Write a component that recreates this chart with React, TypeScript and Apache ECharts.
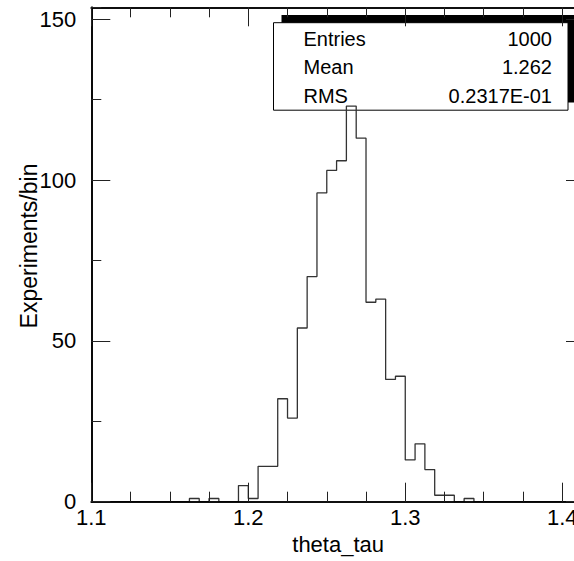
import React, { useEffect, useRef } from "react";
import * as echarts from "echarts";

// ---- data ----
const binStart = 1.1;
const binWidth = 0.00625;
// counts per bin, from 1.1 upwards (50 bins)
const counts = [
  0, 0, 0, 0, 0, 0, 0, 0, 0, 0,
  1, 0, 1, 0, 0, 5, 1, 11, 11, 32,
  26, 54, 70, 96, 103, 106, 123, 113, 62, 63,
  38, 39, 13, 18, 10, 2, 2, 0, 1, 0,
  0, 0, 0, 0, 0, 0, 0, 0, 0, 0,
];
const xMajorTicks = [1.1, 1.2, 1.3, 1.4];
const yMajorTicks = [0, 50, 100, 150];
const statNames = ["Entries", "Mean", "RMS"];
const statValues = ["1000", "1.262", "0.2317E-01"];
const xTitle = "theta_tau";
const yTitle = "Experiments/bin";

const FONT = "Liberation Sans, Arial, Helvetica, sans-serif";

export default function App() {
  const ref = useRef<HTMLDivElement>(null);

  useEffect(() => {
    const chart = echarts.init(ref.current!, null, { renderer: "svg" });
    const xMin = 1.1;
    const xMax = 1.4145;
    const yMin = 0;
    const yMax = 153.7;

    const data: number[][] = counts.map((c, k) => [binStart + k * binWidth, c]);
    data.push([binStart + counts.length * binWidth, 0]);

    const axisLine = { show: true, onZero: false, lineStyle: { color: "#000", width: 1.6 } };
    const tickStyle = { color: "#222", width: 1 };

    const mkX = (position: string, interval: number, len: number, labels: boolean, custom?: number[]) => ({
      type: "value",
      position,
      min: xMin,
      max: xMax,
      interval,
      z: 4,
      splitLine: { show: false },
      axisLine,
      axisTick: { show: true, inside: true, length: len, lineStyle: tickStyle, ...(custom ? { customValues: custom } : {}) },
      axisLabel: labels
        ? {
            show: true,
            margin: 5,
            color: "#000",
            fontSize: 22,
            fontFamily: FONT,
            customValues: custom,
          }
        : { show: false },
      ...(labels && position === "bottom"
        ? {
            name: xTitle,
            nameLocation: "middle",
            nameGap: 29,
            nameTextStyle: { color: "#000", fontSize: 22, fontFamily: FONT },
          }
        : {}),
    });

    const mkY = (position: string, interval: number, len: number, labels: boolean, custom?: number[]) => ({
      type: "value",
      position,
      min: yMin,
      max: yMax,
      interval,
      z: 4,
      splitLine: { show: false },
      axisLine,
      axisTick: { show: true, inside: true, length: len, lineStyle: tickStyle, ...(custom ? { customValues: custom } : {}) },
      axisLabel: labels
        ? {
            show: true,
            margin: 15,
            color: "#000",
            fontSize: 22,
            fontFamily: FONT,
            customValues: custom,
          }
        : { show: false },
    });

    const statLeft = 303.5;
    const statRight = 552;
    const statTop = 38.6;
    const statGap = 28.6;

    chart.setOption({
      animation: false,
      backgroundColor: "#fff",
      grid: {
        left: 91.3,
        right: 15,
        top: 7.3,
        bottom: 59.3,
        containLabel: false,
        outerBoundsMode: "none",
      },
      xAxis: [
        mkX("bottom", 0.025, 10, false),
        mkX("bottom", 0.1, 19, true, xMajorTicks),
        mkX("top", 0.025, 10, false),
        mkX("top", 0.1, 19, false, xMajorTicks),
      ],
      yAxis: [
        mkY("left", 25, 10, false),
        mkY("left", 50, 19, true, yMajorTicks),
        mkY("right", 25, 10, false),
        mkY("right", 50, 19, false, yMajorTicks),
      ],
      series: [
        {
          type: "line",
          xAxisIndex: 0,
          yAxisIndex: 0,
          step: "end",
          data,
          showSymbol: false,
          symbol: "none",
          z: 3,
          lineStyle: { color: "#333", width: 1.3 },
        },
      ],
      graphic: [
        {
          type: "rect",
          z: 1,
          shape: { x: 281.5, y: 15, width: 294.5, height: 87.5 },
          style: { fill: "#000" },
        },
        {
          type: "rect",
          z: 2,
          shape: { x: 273.5, y: 22.7, width: 294.5, height: 87.5 },
          style: { fill: "#fff", stroke: "#000", lineWidth: 1 },
        },
        ...statNames.map((n, i) => ({
          type: "text",
          z: 2,
          x: statLeft,
          y: statTop + i * statGap,
          style: {
            text: n,
            fill: "#000",
            fontSize: 20,
            fontFamily: FONT,
            align: "left",
            verticalAlign: "middle",
          },
        })),
        ...statValues.map((v, i) => ({
          type: "text",
          z: 2,
          x: statRight,
          y: statTop + i * statGap,
          style: {
            text: v,
            fill: "#000",
            fontSize: 20,
            fontFamily: FONT,
            align: "right",
            verticalAlign: "middle",
          },
        })),
        {
          type: "text",
          z: 2,
          x: 28.5,
          y: 246,
          rotation: Math.PI / 2,
          style: {
            text: yTitle,
            fill: "#000",
            fontSize: 23,
            fontFamily: FONT,
            align: "center",
            verticalAlign: "middle",
          },
        },
      ],
    });

    return () => {
      chart.dispose();
    };
  }, []);

  return (
    <div
      style={{
        position: "fixed",
        left: 0,
        top: 0,
        width: 574,
        height: 561,
        overflow: "hidden",
        background: "#fff",
      }}
    >
      <div ref={ref} style={{ width: 600, height: 561 }} />
    </div>
  );
}
